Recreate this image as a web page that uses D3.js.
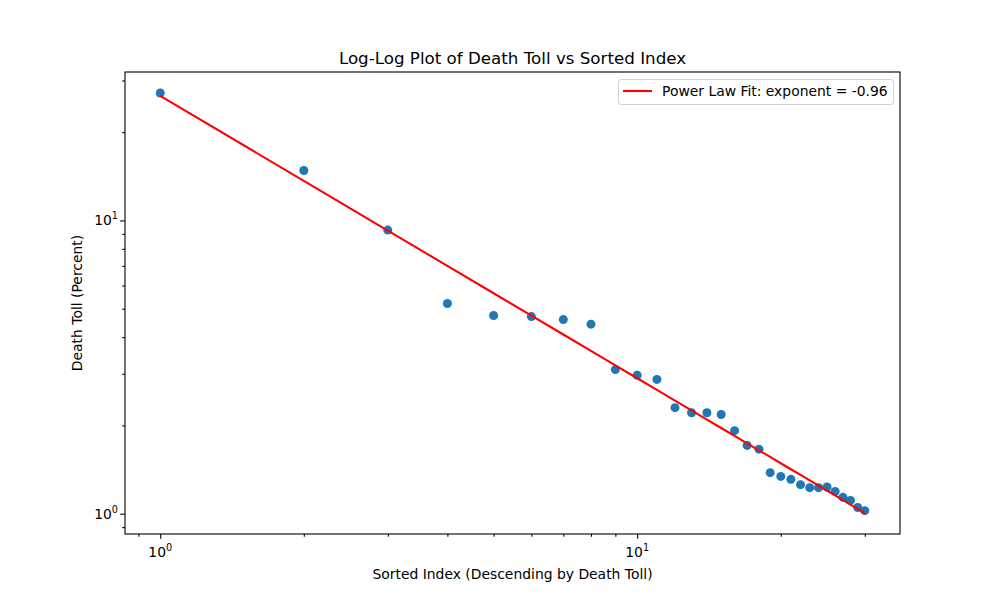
<!DOCTYPE html>
<html>
<head>
<meta charset="utf-8">
<script src="https://cdn.jsdelivr.net/npm/d3@7"></script>
<style>
  html, body { margin: 0; padding: 0; background: #fff; }
  svg { display: block; font-family: "DejaVu Sans", sans-serif; }
</style>
</head>
<body>
<svg id="chart" width="1000" height="600"></svg>
<script>
// ---- data ----
const sortedIndex = [1,2,3,4,5,6,7,8,9,10,11,12,13,14,15,16,17,18,19,20,21,22,23,24,25,26,27,28,29,30];
const deathToll = [27.2,14.8,9.27,5.21,4.74,4.70,4.59,4.43,3.10,2.965,2.87,2.30,2.21,2.21,2.18,1.92,1.71,1.66,1.38,1.34,1.31,1.256,1.227,1.227,1.233,1.19,1.137,1.11,1.05,1.024];
const fitCoefficient = 26.6;
const fitExponent = -0.963;
const fitLabel = "Power Law Fit: exponent = " + fitExponent.toFixed(2);
const titleText = "Log-Log Plot of Death Toll vs Sorted Index";
const xLabelText = "Sorted Index (Descending by Death Toll)";
const yLabelText = "Death Toll (Percent)";
const majorTicks = [1, 10];

(function () {
// ---- layout ----
const mLeft = 125, mRight = 900, mTop = 72, mBottom = 534;
const svg = d3.select("#chart");

const fitValues = sortedIndex.map(v => fitCoefficient * Math.pow(v, fitExponent));

function logDomain(vals) {
  const lmin = Math.log10(d3.min(vals)), lmax = Math.log10(d3.max(vals));
  const m = 0.05 * (lmax - lmin);
  return [Math.pow(10, lmin - m), Math.pow(10, lmax + m)];
}
const x = d3.scaleLog().domain(logDomain(sortedIndex)).range([mLeft, mRight]);
const y = d3.scaleLog().domain(logDomain(deathToll.concat(fitValues))).range([mBottom, mTop]);

function minorTicks(scale) {
  const [a, b] = scale.domain();
  const out = [];
  for (let e = Math.floor(Math.log10(a)); e <= Math.ceil(Math.log10(b)); e++) {
    for (let k = 2; k <= 9; k++) {
      const v = k * Math.pow(10, e);
      if (v >= a && v <= b) out.push(v);
    }
  }
  return out;
}

// ---- marks ----
const plot = svg.append("g");
plot.selectAll("circle").data(sortedIndex).enter().append("circle")
  .attr("cx", d => x(d))
  .attr("cy", (d, i) => y(deathToll[i]))
  .attr("r", 4.5)
  .attr("fill", "#1f77b4");

const line = d3.line().x(d => x(d)).y((d, i) => y(fitValues[i]));
plot.append("path").datum(sortedIndex)
  .attr("d", line)
  .attr("fill", "none")
  .attr("stroke", "red")
  .attr("stroke-width", 2.08);

// ---- axes frame ----
svg.append("rect").attr("x", mLeft).attr("y", mTop)
  .attr("width", mRight - mLeft).attr("height", mBottom - mTop)
  .attr("fill", "none").attr("stroke", "#000").attr("stroke-width", 1.1);

const fmt = () => "";
const xAxisMajor = d3.axisBottom(x).tickValues(majorTicks).tickSize(4.86).tickFormat(fmt);
const xAxisMinor = d3.axisBottom(x).tickValues(minorTicks(x)).tickSize(2.78).tickFormat(fmt);
const yAxisMajor = d3.axisLeft(y).tickValues(majorTicks).tickSize(4.86).tickFormat(fmt);
const yAxisMinor = d3.axisLeft(y).tickValues(minorTicks(y)).tickSize(2.78).tickFormat(fmt);

function styleAxis(g) {
  g.select(".domain").remove();
  g.selectAll("line").attr("stroke", "#000").attr("stroke-width", 1.1);
}
svg.append("g").attr("transform", `translate(0,${mBottom})`).call(xAxisMajor).call(styleAxis);
svg.append("g").attr("transform", `translate(0,${mBottom})`).call(xAxisMinor).call(styleAxis);
svg.append("g").attr("transform", `translate(${mLeft},0)`).call(yAxisMajor).call(styleAxis);
svg.append("g").attr("transform", `translate(${mLeft},0)`).call(yAxisMinor).call(styleAxis);

function powLabel(g, v) {
  const e = Math.round(Math.log10(v));
  g.append("tspan").text("10");
  g.append("tspan").attr("dy", -6).attr("font-size", 9.7).text(e);
}
majorTicks.forEach(v => {
  const t = svg.append("text").attr("x", x(v)).attr("y", 557)
    .attr("text-anchor", "middle").attr("font-size", 13.9).attr("fill", "#000");
  powLabel(t, v);
  const t2 = svg.append("text").attr("x", 118).attr("y", y(v) + 5)
    .attr("text-anchor", "end").attr("font-size", 13.9).attr("fill", "#000");
  powLabel(t2, v);
});

// ---- texts ----
svg.append("text").attr("x", (mLeft + mRight) / 2).attr("y", 64)
  .attr("text-anchor", "middle").attr("font-size", 16.7).text(titleText);
svg.append("text").attr("x", (mLeft + mRight) / 2).attr("y", 579)
  .attr("text-anchor", "middle").attr("font-size", 13.9).text(xLabelText);
svg.append("text").attr("transform", `translate(82,${(mTop + mBottom) / 2}) rotate(-90)`)
  .attr("text-anchor", "middle").attr("font-size", 13.9).text(yLabelText);

// ---- legend ----
const lg = svg.append("g");
lg.append("rect").attr("x", 618.5).attr("y", 79.5).attr("width", 275).attr("height", 25)
  .attr("rx", 3).attr("fill", "#fff").attr("fill-opacity", 0.8)
  .attr("stroke", "#d0d0d0").attr("stroke-width", 1);
lg.append("line").attr("x1", 623).attr("x2", 652).attr("y1", 91).attr("y2", 91)
  .attr("stroke", "red").attr("stroke-width", 2.08);
lg.append("text").attr("x", 662).attr("y", 96).attr("font-size", 13.9).text(fitLabel);
})();
</script>
</body>
</html>
